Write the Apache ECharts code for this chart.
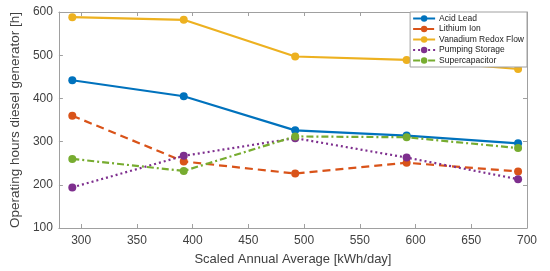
<!DOCTYPE html>
<html>
<head>
<meta charset="utf-8">
<script src="https://cdn.jsdelivr.net/npm/echarts@6/dist/echarts.min.js"></script>
<style>
  html, body { margin: 0; padding: 0; background: #fff; }
  #chart { width: 550px; height: 271px; }
</style>
</head>
<body>
<div id="chart"></div>
<script>
// x positions (scaled annual average) and y values per storage type
var xValues = [292, 392, 492, 592, 692];
var xTicks = [300, 350, 400, 450, 500, 550, 600, 650, 700];
var acidLead = [442, 405, 326, 314, 296];
var lithiumIon = [360, 254, 226, 251, 231];
var vanadium = [588, 582, 497, 489, 468];
var pumping = [194, 267, 308, 263, 213];
var supercap = [260, 232, 312, 310, 285];

var names = ['Acid Lead', 'Lithium Ion', 'Vanadium Redox Flow', 'Pumping Storage', 'Supercapacitor'];
var colors = ['#0072BD', '#D95319', '#EDB120', '#7E2F8E', '#77AC30'];
var dashes = ['solid', [8, 5], 'solid', [2, 3], [7, 3, 2, 3]];
var values = [acidLead, lithiumIon, vanadium, pumping, supercap];

var myChart = echarts.init(document.getElementById('chart'));

var axisColor = '#a0a0a0';
var textColor = '#404040';

var series = values.map(function (vals, i) {
    return {
        name: names[i],
        type: 'line',
        data: vals.map(function (v, j) { return [xValues[j], v]; }),
        symbol: 'circle',
        symbolSize: 8,
        itemStyle: { color: colors[i] },
        lineStyle: { color: colors[i], width: 2.2, type: dashes[i] },
        animation: false
    };
});

var option = {
    backgroundColor: '#fff',
    grid: { left: 53, right: 23, top: 12, bottom: 41 },
    legend: {
        orient: 'vertical',
        right: 23,
        top: 12,
        backgroundColor: '#fff',
        borderColor: axisColor,
        borderWidth: 1,
        borderRadius: 0,
        padding: [2, 3, 2, 2],
        itemGap: 1.5,
        itemWidth: 22,
        itemHeight: 8,
        textStyle: { fontSize: 8.5, color: '#202020', fontFamily: 'Liberation Sans', padding: [0, 0, 0, -1] },
        data: names
    },
    xAxis: [{
        type: 'value',
        min: 280,
        max: 700,
        name: 'Scaled Annual Average [kWh/day]',
        nameLocation: 'middle',
        nameGap: 25,
        nameTextStyle: { fontSize: 13, color: textColor, fontFamily: 'Liberation Sans' },
        axisLine: { lineStyle: { color: axisColor } },
        axisTick: { inside: true, length: 4, customValues: xTicks, lineStyle: { color: axisColor } },
        axisLabel: { customValues: xTicks, fontSize: 12, color: textColor, margin: 7, fontFamily: 'Liberation Sans' },
        splitLine: { show: false }
    }, {
        type: 'value',
        position: 'top',
        min: 280,
        max: 700,
        axisLine: { show: true, lineStyle: { color: axisColor } },
        axisTick: { inside: true, length: 4, customValues: xTicks, lineStyle: { color: axisColor } },
        axisLabel: { show: false },
        splitLine: { show: false }
    }],
    yAxis: [{
        type: 'value',
        min: 100,
        max: 600,
        interval: 100,
        name: 'Operating hours diesel generator [h]',
        nameLocation: 'middle',
        nameGap: 36,
        nameTextStyle: { fontSize: 13.5, color: textColor, fontFamily: 'Liberation Sans' },
        axisLine: { show: true, lineStyle: { color: axisColor } },
        axisTick: { show: true, inside: true, length: 4, lineStyle: { color: axisColor } },
        axisLabel: { fontSize: 12, color: textColor, margin: 6, fontFamily: 'Liberation Sans' },
        splitLine: { show: false }
    }, {
        type: 'value',
        position: 'right',
        min: 100,
        max: 600,
        interval: 100,
        axisLine: { show: true, lineStyle: { color: axisColor } },
        axisTick: { show: true, inside: true, length: 4, lineStyle: { color: axisColor } },
        axisLabel: { show: false },
        splitLine: { show: false }
    }],
    series: series
};

myChart.setOption(option);
</script>
</body>
</html>
